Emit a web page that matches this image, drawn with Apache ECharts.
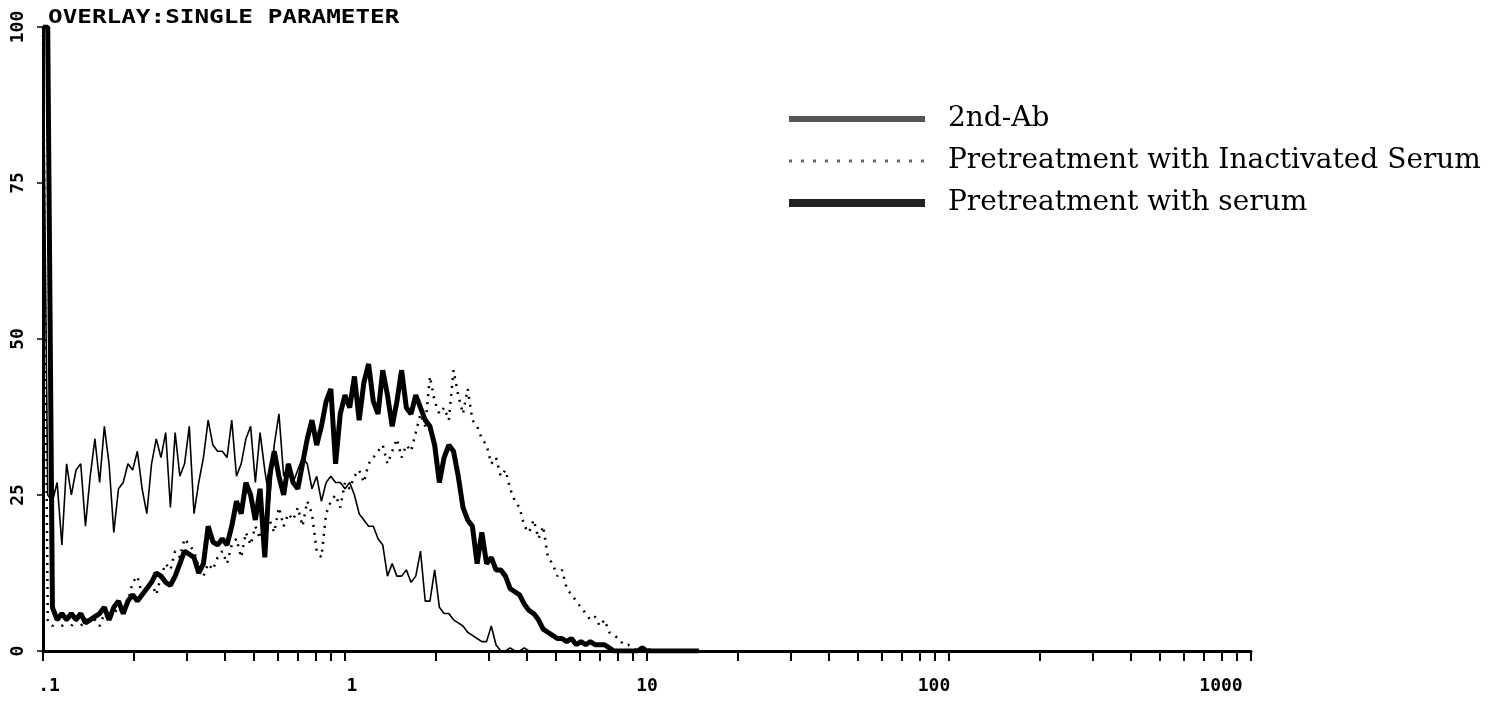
<!DOCTYPE html>
<html>
<head>
<meta charset="utf-8">
<script src="https://cdn.jsdelivr.net/npm/echarts@6/dist/echarts.min.js"></script>
<style>
html,body{margin:0;padding:0;background:#fff;}
#chart{width:1497px;height:701px;}
</style>
</head>
<body>
<div id="chart"></div>
<script>
// ---- data ----
const seriesNames = ['2nd-Ab', 'Pretreatment with Inactivated Serum', 'Pretreatment with serum'];
const chartTitle = 'OVERLAY:SINGLE PARAMETER';
// instrument channels: 64 channels per decade, channel 0 = 0.1
const channelsPerDecade = 64;
const firstChannelValue = 0.1;
const xTickLabels = ['.1', '1', '10', '100', '1000'];
const xMajorValues = [0.1, 1, 10, 100, 1000];
const xTickValues = [0.1,0.2,0.3,0.4,0.5,0.6,0.7,0.8,0.9,1,2,3,4,5,6,7,8,9,10,20,30,40,50,60,70,80,90,100,200,300,400,500,600,700,800,900,1000];
const yTicks = [0, 25, 50, 75, 100];

const secondAb = [100,25,24,27,17,30,25,29,30,20,28,34,27,36,30,19,26,27,30,29,
  32,26,22,30,34,31,35,23,35,28,30,36,22,27,31,37,33,32,32,31,
  37,28,30,34,36,27,35,29,24,33,38,28,30,27,29,31,30,26,28,24,
  27,28,27,27,26,27,25,22,21,20,20,18,17,12,14,12,12,13,11,12,
  16,8,8,13,7,6,6,5,4.5,4,3,2.5,2,1.5,1.5,4,1,0,0,0.5,
  0,0,0.5,0,0,0,0,0,0,0,0,0,0,0,0,0,0,0,0,0,
  0,0,0,0,0,0,0,0,0,0,0,0,0,0,0,0,0,0,0,0];

const inactivated = [100,5,4,5,4,5,4,5,4,5,5,5,4,6,5,6,7,6,8,11,
  12,9,10,11,9,12,14,13,16,15,18,17,16,13.5,12,14,13,15,16,14,
  17,18,15,19,17,20,18,22,21,19,23,20,22,21,23,20,24,22,16,15,
  22,24,25,23,27,26,28,29,27,30,31,32,33,30,32,34,31,33,32,35,
  38,36,44,40,38,39,37,45,41,38,42,37,36,34,33,30,31,28,29,26,
  24,23,20,19,21,18,20,15,14,12,13,10,9,8,7,6,5,5.5,4,5,
  3,2.5,2,1,1,0.5,0,0,0.5,0,0,0,0,0,0,0,0,0,0,0];

const serum = [100,100,7,5,6,5,6,5,6,4.5,5,5.5,6,7,5,7,8,6,8,9,
  8,9,10,11,12.5,12,11,10.5,12,14,16,15.5,15,12.5,14,20,17.5,17,18,17,
  20,24,22,27,25,21,26,15,28,32,28,25,30,27,26,30,34,37,33,36,
  40,42,30,38,41,39,44,37,43,46,40,38,45,41,36,40,45,39,38,41,
  39,37,36,33,27,31,33,32,28,23,21,20,14,19,14,15,13,13,12,10,
  9.5,9,7.5,6.5,6,5,3.5,3,2.5,2,2,1.5,2,1,1.5,1,1.5,1,1,1,
  0.5,0,0,0,0,0,0,0.5,0,0,0,0,0,0,0,0,0,0,0,0];

// label nudges: the printout places its axis numbers slightly off the tick centres
const xLabelStyleKeys = ['p', 'q', 'c', 'r', 's'];

function toPairs(values) {
  return values.map((v, i) => [firstChannelValue * Math.pow(10, i / channelsPerDecade), v]);
}

const chart = echarts.init(document.getElementById('chart'));
const monoFont = '"DejaVu Sans Mono", monospace';
const lblBase = { fontFamily: monoFont, fontWeight: 'bold', fontSize: 18, color: '#000' };

chart.setOption({
  animation: false,
  backgroundColor: '#ffffff',
  graphic: [{
    type: 'text',
    x: 48, y: 9,
    scaleX: 1.28,
    style: { text: chartTitle, font: 'bold 19px ' + monoFont, fill: '#000' }
  }],
  legend: {
    orient: 'vertical',
    left: 780, top: 98,
    itemWidth: 136, itemHeight: 14,
    itemGap: 10,
    selectedMode: false,
    textStyle: { fontFamily: '"DejaVu Serif", serif', fontSize: 28, color: '#000', padding: [0, 0, 0, 18], lineHeight: 32 },
    data: [
      { name: seriesNames[0], itemStyle: { opacity: 0 }, lineStyle: { color: '#555', width: 6, type: 'solid' } },
      { name: seriesNames[1], itemStyle: { opacity: 0 }, lineStyle: { color: '#666', width: 3, type: [3, 9] } },
      { name: seriesNames[2], itemStyle: { opacity: 0 }, lineStyle: { color: '#222', width: 8, type: 'solid' } }
    ]
  },
  grid: { left: 43, right: 246, top: 27, bottom: 50, outerBoundsMode: 'none' },
  xAxis: {
    type: 'log', logBase: 10, min: 0.1, max: 1000,
    splitLine: { show: false },
    axisLine: { lineStyle: { color: '#000', width: 3 } },
    axisTick: { show: true, length: 10, lineStyle: { color: '#000', width: 2 }, customValues: xTickValues },
    minorTick: { show: false },
    axisLabel: {
      customValues: xMajorValues,
      margin: 26,
      ...lblBase,
      rich: {
        p: { ...lblBase, padding: [0, 0, 0, 12] },
        q: { ...lblBase, padding: [0, 0, 0, 14] },
        c: { ...lblBase },
        r: { ...lblBase, padding: [0, 30, 0, 0] },
        s: { ...lblBase, padding: [0, 60, 0, 0] }
      },
      formatter: function (v) {
        const idx = xMajorValues.findIndex(m => Math.abs(m - v) / m < 1e-6);
        return idx >= 0 ? '{' + xLabelStyleKeys[idx] + '|' + xTickLabels[idx] + '}' : '';
      }
    }
  },
  yAxis: {
    type: 'value', min: 0, max: 100, interval: 25,
    splitLine: { show: false },
    axisLine: { show: true, lineStyle: { color: '#000', width: 3 } },
    axisTick: { show: true, length: 6, lineStyle: { color: '#000', width: 1.5 } },
    axisLabel: {
      rotate: 90, margin: 16,
      ...lblBase,
      formatter: function (v) { return yTicks.indexOf(v) >= 0 ? String(v) : ''; }
    }
  },
  series: [
    {
      name: seriesNames[0], type: 'line', symbol: 'none',
      data: toPairs(secondAb),
      lineStyle: { color: '#000', width: 1.6 },
      itemStyle: { color: '#000' }, z: 4
    },
    {
      name: seriesNames[1], type: 'line', symbol: 'none',
      data: toPairs(inactivated),
      lineStyle: { color: '#000', width: 2.5, type: [2, 6] },
      itemStyle: { color: '#000' }, z: 3
    },
    {
      name: seriesNames[2], type: 'line', symbol: 'none',
      data: toPairs(serum),
      lineStyle: { color: '#000', width: 5 },
      itemStyle: { color: '#000' }, z: 2
    }
  ]
});
</script>
</body>
</html>
